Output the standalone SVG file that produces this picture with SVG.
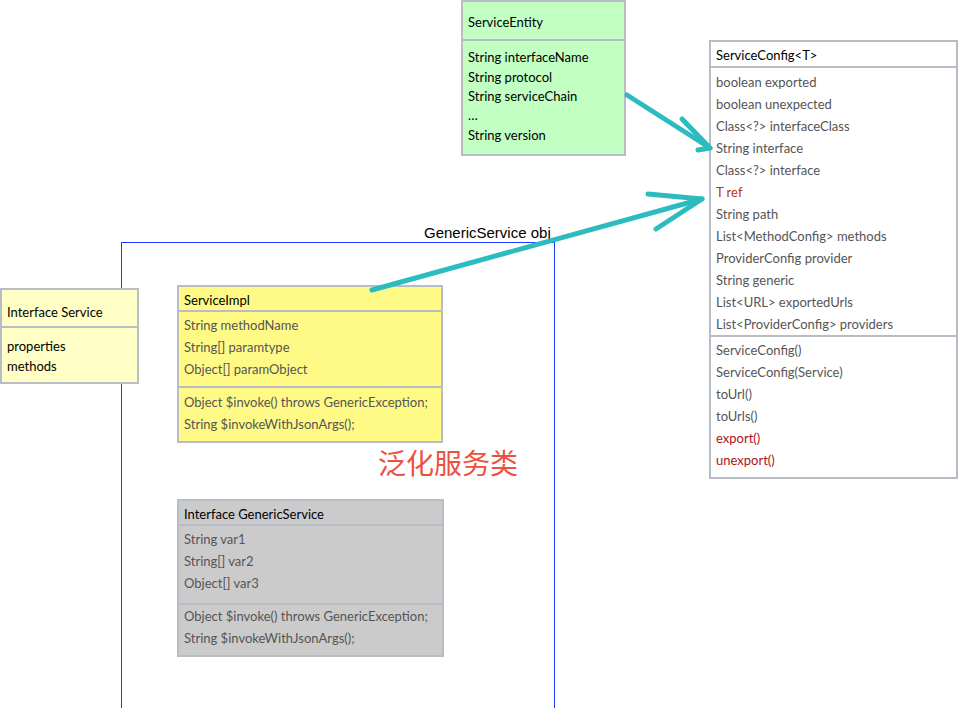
<svg xmlns="http://www.w3.org/2000/svg" width="959" height="708" viewBox="0 0 959 708">
<style>
text{font-family:"Lato","Liberation Sans",sans-serif;font-size:13px;fill:#555}
.h{fill:#000}
.box{stroke:#b8bcc4;stroke-width:2}
.ln{stroke:#b8bcc4;stroke-width:2}
.ar{stroke:#2cbcbf;stroke-width:5;fill:none;stroke-linecap:round;stroke-linejoin:round}
.red{fill:#b8360e}
</style>
<rect width="959" height="708" fill="#fff"/>
<g id="generic-obj">
<rect x="121.5" y="242.5" width="433" height="466" fill="none" stroke="#1a3cff" stroke-width="1"/>
<text x="424" y="238" class="h" style="font-family:'Liberation Sans',sans-serif;font-size:15px">GenericService obj</text>
</g>
<g id="service-entity">
<rect x="462" y="1" width="163" height="154" fill="#c2ffc2" class="box"/>
<line x1="462" y1="40" x2="625" y2="40" class="ln"/>
<text x="468" y="27" class="h">ServiceEntity</text>
<text x="468" y="62" class="h">String interfaceName</text>
<text x="468" y="82" class="h">String protocol</text>
<text x="468" y="101" class="h">String serviceChain</text>
<text x="468" y="120" class="h">…</text>
<text x="468" y="140" class="h">String version</text>
</g>
<g id="service-config">
<rect x="710" y="41" width="247" height="437" fill="#fff" class="box"/>
<line x1="710" y1="67" x2="957" y2="67" class="ln"/>
<line x1="710" y1="336" x2="957" y2="336" class="ln"/>
<text x="716" y="60" class="h">ServiceConfig&lt;T&gt;</text>
<text x="716" y="87">boolean exported</text>
<text x="716" y="109">boolean unexpected</text>
<text x="716" y="131">Class&lt;?&gt; interfaceClass</text>
<text x="716" y="153">String interface</text>
<text x="716" y="175">Class&lt;?&gt; interface</text>
<text x="716" y="197" class="red">T ref</text>
<text x="716" y="219">String path</text>
<text x="716" y="241">List&lt;MethodConfig&gt; methods</text>
<text x="716" y="263">ProviderConfig provider</text>
<text x="716" y="285">String generic</text>
<text x="716" y="307">List&lt;URL&gt; exportedUrls</text>
<text x="716" y="329">List&lt;ProviderConfig&gt; providers</text>
<text x="716" y="355">ServiceConfig()</text>
<text x="716" y="377">ServiceConfig(Service)</text>
<text x="716" y="399">toUrl()</text>
<text x="716" y="421">toUrls()</text>
<text x="716" y="443" style="fill:#b0101a">export()</text>
<text x="716" y="465" style="fill:#b0101a">unexport()</text>
</g>
<g id="interface-service">
<rect x="1" y="289" width="137" height="94" fill="#ffffc6" class="box"/>
<line x1="1" y1="327" x2="138" y2="327" class="ln"/>
<text x="7" y="317" class="h">Interface Service</text>
<text x="7" y="351" class="h">properties</text>
<text x="7" y="371" class="h">methods</text>
</g>
<g id="service-impl">
<rect x="178" y="286" width="264" height="156" fill="#fffa86" class="box"/>
<line x1="178" y1="311" x2="442" y2="311" class="ln"/>
<line x1="178" y1="387" x2="442" y2="387" class="ln"/>
<text x="184" y="305" class="h">ServiceImpl</text>
<text x="184" y="330">String methodName</text>
<text x="184" y="352">String[] paramtype</text>
<text x="184" y="374">Object[] paramObject</text>
<text x="184" y="407">Object $invoke() throws GenericException;</text>
<text x="184" y="429">String $invokeWithJsonArgs();</text>
</g>
<text x="378" y="474" style="font-family:'Noto Sans CJK SC',sans-serif;font-size:28px;fill:#ee5040">泛化服务类</text>
<g id="generic-service">
<rect x="178" y="500" width="265" height="156" fill="#cbcbcb" class="box"/>
<line x1="178" y1="525" x2="443" y2="525" class="ln"/>
<line x1="178" y1="604" x2="443" y2="604" class="ln"/>
<text x="184" y="519" class="h">Interface GenericService</text>
<text x="184" y="544">String var1</text>
<text x="184" y="566">String[] var2</text>
<text x="184" y="588">Object[] var3</text>
<text x="184" y="621">Object $invoke() throws GenericException;</text>
<text x="184" y="643">String $invokeWithJsonArgs();</text>
</g>
<g id="connectors">
<path class="ar" d="M627,95 L710,148"/>
<path class="ar" d="M682,119 L710,148 L698,150"/>
<path class="ar" d="M372,290 L702,199"/>
<path class="ar" d="M648,194 L702,199 L656,229"/>
</g>
</svg>
